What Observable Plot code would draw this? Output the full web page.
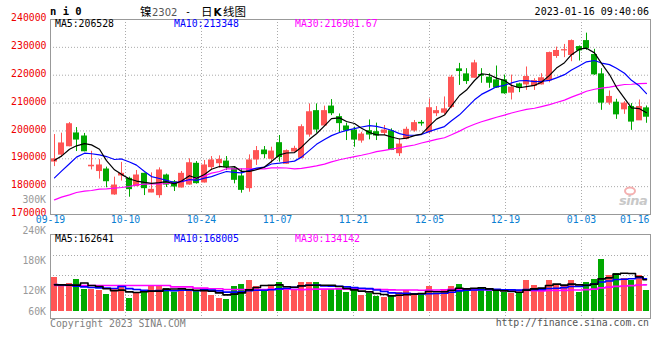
<!DOCTYPE html>
<html><head><meta charset="utf-8">
<script src="https://cdn.jsdelivr.net/npm/d3@7"></script>
<script src="https://cdn.jsdelivr.net/npm/@observablehq/plot@0.6"></script>
<style>
body{margin:0;background:#fff;}
#wrap{position:relative;width:660px;height:360px;overflow:hidden;background:#fff;}
#wrap svg{position:absolute;left:0;top:0;}
</style></head><body><div id="wrap"></div>
<script>
// ---------- data ----------
const xTickLabels = ["09-19","10-10","10-24","11-07","11-21","12-05","12-19","01-03","01-16"];
const priceTicks = [240000,230000,220000,210000,200000,190000,180000,170000];
const priceGrid = [230000,220000,210000,200000,190000,180000];
const volTickLabels = ["300K","240K","180K","120K","60K"];
const mainLegend = [["MA5:", "206528"], ["MA10:", "213348"], ["MA30:", "216901.67"]];
const volLegend = [["MA5:", "162641"], ["MA10:", "168005"], ["MA30:", "134142"]];

const open = [189000,191500,194500,199100,198000,187300,185600,186150,177200,184000,
182800,180200,184600,177900,176950,184000,181600,179700,180750,188200,
181500,187000,188400,189000,186400,183650,179450,189750,192970,190000,
195600,188200,192600,190350,198700,207100,201950,208750,204950,201600,
200150,196550,199900,199550,199300,199900,192000,197150,200150,202900,
199550,206350,206550,208600,222100,220300,219100,220100,219100,218150,
218150,213750,216700,216700,216150,216700,218150,226900,228900,227250,
230100,232250,227250,220300,210150,210150,207750,208600,203800,208100];
const high = [198700,199200,203000,201200,199100,192700,189700,187000,183400,188700,
183400,185800,184850,184950,186750,184500,182200,185450,190000,189000,
189400,190800,191050,190800,187200,186400,191400,194400,194400,194150,
198350,193200,194500,202200,209700,209700,208900,211250,206100,202800,
201350,199500,203950,202800,201950,200750,197150,201350,203750,203750,
211500,208750,212200,219950,224250,222350,225350,222350,220550,223300,
220050,220050,217100,222950,218750,220550,228300,230100,231050,232650,
230500,235100,229300,222350,214350,211350,210500,209800,211100,208950];
const low = [187200,190600,194300,192600,192500,186000,182700,179600,176900,182000,
176200,180000,176800,177800,175850,179700,178250,179500,180500,180900,
181300,186000,186650,185800,181000,177650,178000,187600,190000,188400,
188800,188000,192400,190000,197750,199200,201700,205500,199200,196550,
194150,195600,196800,196550,198350,192950,190800,196800,199550,201700,
198950,205150,205700,208000,216350,216700,219000,217100,215300,215300,
213150,211100,213750,214550,214550,216500,217300,226050,226300,224850,
225100,228900,219950,207400,209200,204150,205950,200200,203800,202750];
const close = [189800,195500,202400,196900,192700,187500,187600,181950,180400,184600,
179100,184000,179450,178850,185800,180750,180050,184600,188400,181250,
187600,189400,189600,187000,182450,178850,189400,192750,191650,192600,
190600,192750,193550,201350,206700,200500,207100,206350,202800,200150,
196900,198700,198700,198350,200150,193200,195100,200400,202800,202700,
208150,207100,207750,219100,221500,217900,224250,219850,217300,215550,
213500,215550,215550,219350,217900,218900,227950,228700,229000,232250,
228900,229650,220300,210150,212200,205950,209800,203350,208600,205100];
const volume = [175100,135600,144200,164800,113300,113300,108150,87550,113300,128750,
66950,94400,104700,128750,128750,118450,99550,108150,113300,108150,
108150,82400,66950,61800,128750,139050,159650,128750,113300,133900,
149350,113300,113300,149350,149350,149350,113300,113300,118450,97850,
113300,82400,92700,77250,72100,77250,97850,108150,92700,87550,
128750,92700,108150,128750,139050,113300,108150,118450,103000,103000,
97850,92700,97850,159650,133900,118450,159650,133900,133900,159650,
97850,149350,164800,267800,185400,195700,169950,159650,185400,108150];

// moving-average values before a full window exists
const ma5Prefix = [189500,190950,193450,194650];
const ma10Prefix = [183150,185550,188200,190600,192000,191800,191400,190800,189750];
const ma30Prefix = [175270,176230,177060,177900,178380,178620,179100,179220,179450,179700,
180050,180650,180900,181000,181000,181130,181370,181970,182200,183150,
183880,184840,185430,186400,186400,186400,186400,186400,186400];
const vma5Prefix = [137300,137300,136000,136000];
const vma10Prefix = [138850,137300,135600,130400,127000,123600,121900,120200,118450];
const vma30Prefix = [133900,133900,133900,133900,133900,133900,133900,133900,133900,133900,
133900,133900,133900,133900,133900,133900,127000,127000,127000,120200,
120200,117000,117000,113300,113300,113300,113300,113300,113300];

// ---------- layout ----------
const W = 660, X0 = 50, X1 = 650;
const STEP = (X1 - X0) / close.length;
const gridCols = [125, 201, 277, 353, 429, 505, 581];      // pixel columns of vertical grid
const volGridRows = [255, 275, 295];                         // pixel rows of volume grid
const VOL_BASE = 311, VOL_TOP = 234, VOL_BOTTOM = 318, VPX = 5150;
const volLabelCenters = [199.3, 230.5, 260.3, 290.7, 311.2];
const RED = "#ff5555", GREEN = "#00a800";
const MONO = "DejaVu Sans Mono, monospace";

const N = close.length;
const idx = d3.range(N);
const gridIdx = gridCols.map(c => (c - X0) / STEP - 0.5);
const mavg = (arr, w, prefix) => arr.map((_, i) => i < w - 1 ? prefix[i] : d3.mean(arr.slice(i - w + 1, i + 1)));
const ma5 = mavg(close, 5, ma5Prefix), ma10 = mavg(close, 10, ma10Prefix), ma30 = mavg(close, 30, ma30Prefix);
const vma5 = mavg(volume, 5, vma5Prefix), vma10 = mavg(volume, 10, vma10Prefix), vma30 = mavg(volume, 30, vma30Prefix);

const rows = idx.map(i => ({i, o: open[i], h: high[i], l: low[i], c: close[i], v: volume[i],
  col: close[i] >= open[i] ? RED : GREEN}));

const xLabelRows = xTickLabels.slice(0, -1).map((t, k) => ({t, x: k === 0 ? -0.5 : gridIdx[k - 1]}));

const dotted = {stroke: "#aaa", strokeDasharray: "1,2"};

const main = Plot.plot({
  width: W, height: 232,
  marginLeft: X0, marginRight: W - X1, marginTop: 19, marginBottom: 18,
  style: {fontFamily: MONO, fontSize: "9.8px", background: "transparent", overflow: "visible"},
  x: {type: "linear", domain: [-0.5, N - 0.5], round: true, axis: null},
  y: {domain: [170000, 240000], axis: null},
  color: {type: "identity"},
  marks: [
    Plot.ruleY(priceGrid, dotted),
    Plot.ruleX(gridIdx, dotted),
    Plot.text(priceTicks, {y: d => d, text: d => String(d), frameAnchor: "left", textAnchor: "end", dx: -4, dy: -1.5, fill: "#ee0000"}),
    Plot.text(xLabelRows, {x: "x", text: "t", frameAnchor: "bottom", dy: 8, fill: "#0a80d2"}),
    Plot.text([xTickLabels[xTickLabels.length - 1]], {x: N - 0.5, text: d => d, frameAnchor: "bottom", dy: 8, dx: -1, textAnchor: "end", fill: "#0a80d2"}),
    Plot.ruleX(rows, {x: "i", y1: "l", y2: "h", stroke: "col"}),
    Plot.rect(rows, {x1: d => d.i - 0.4, x2: d => d.i + 0.4, y1: "o", y2: "c", fill: "col", insetTop: -0.5, insetBottom: -0.5}),
    Plot.line(idx, {x: d => d, y: d => ma30[d], stroke: "#ff00ff", strokeWidth: 1.2}),
    Plot.line(idx, {x: d => d, y: d => ma10[d], stroke: "#0000ff", strokeWidth: 1.2}),
    Plot.line(idx, {x: d => d, y: d => ma5[d], stroke: "#000000", strokeWidth: 1.2}),
    Plot.frame({stroke: "#999"})
  ]
});

const vol = Plot.plot({
  width: W, height: 337,
  marginLeft: X0, marginRight: W - X1, marginTop: VOL_TOP, marginBottom: 337 - VOL_BOTTOM,
  style: {fontFamily: MONO, fontSize: "9.8px", background: "transparent", overflow: "visible"},
  x: {type: "linear", domain: [-0.5, N - 0.5], round: true, axis: null},
  y: {domain: [-(VOL_BOTTOM - VOL_BASE) * VPX, (VOL_BASE - VOL_TOP) * VPX], axis: null},
  color: {type: "identity"},
  marks: [
    Plot.ruleY(volGridRows.map(r => (VOL_BASE - r) * VPX), dotted),
    Plot.ruleX(gridIdx, dotted),
    Plot.rect(rows, {x1: d => d.i - 0.4, x2: d => d.i + 0.4, y1: 0, y2: "v", fill: "col"}),
    Plot.line(idx, {x: d => d, y: d => vma30[d], stroke: "#ff00ff", strokeWidth: 1.6, curve: "step"}),
    Plot.line(idx, {x: d => d, y: d => vma10[d], stroke: "#0000ff", strokeWidth: 1.6, curve: "step"}),
    Plot.line(idx, {x: d => d, y: d => vma5[d], stroke: "#000000", strokeWidth: 1.6, curve: "step"}),
    Plot.frame({stroke: "#999"})
  ]
});

const wrap = document.getElementById("wrap");
wrap.appendChild(main);
wrap.appendChild(vol);

// ---------- text overlay ----------
const ov = d3.select(wrap).append("svg").attr("width", W).attr("height", 360)
  .style("font-family", MONO).style("font-size", "9.8px");
function t(str, x, y, opt = {}) {
  const e = ov.append("text").attr("x", x).attr("y", y).text(str)
    .attr("fill", opt.fill || "#000").attr("text-anchor", opt.anchor || "start");
  if (opt.size) e.style("font-size", opt.size + "px");
  if (opt.weight) e.style("font-weight", opt.weight);
  if (opt.family) e.style("font-family", opt.family);
  if (opt.style) e.style("font-style", opt.style);
  if (opt.ls) e.style("letter-spacing", opt.ls);
  return e;
}
t("n i 0", 50, 15, {weight: "bold", size: 10.5});
const CJK = "'Noto Sans CJK SC', sans-serif";
t("镍", 140, 15.5, {family: CJK, size: 11.5});
t("2302", 152, 15.5, {family: "DejaVu Sans", size: 10, fill: "#555"});
t("-", 185, 14.5, {size: 10});
t("日", 201, 15.5, {family: CJK, size: 11.5});
t("K", 213.5, 15.5, {family: "DejaVu Sans", size: 10.5, weight: "bold"});
t("线图", 223, 15.5, {family: CJK, size: 11.5});
t("2023-01-16 09:40:06", 649, 15, {anchor: "end", size: 10});

const legendX = [55, 174, 295], legendCol = ["#000", "#0000ff", "#ff00ff"];
mainLegend.forEach((d, k) => t(d[0] + d[1], legendX[k], 27, {fill: legendCol[k]}));
volLegend.forEach((d, k) => t(d[0] + d[1], legendX[k], 241.5, {fill: legendCol[k]}));
volTickLabels.forEach((s, k) => t(s, 46, volLabelCenters[k] + 3.6, {anchor: "end", fill: "#999"}));
t("Copyright 2023 SINA.COM", 50, 327, {fill: "#808080"});
t("http://finance.sina.com.cn", 649, 326, {anchor: "end", fill: "#555"});
// watermark
ov.append("ellipse").attr("cx", 630).attr("cy", 191).attr("rx", 5).attr("ry", 3.5)
  .attr("fill", "none").attr("stroke", "#f4b0b0").attr("stroke-width", 2);
t("sina", 619, 205, {family: "DejaVu Sans", size: 13, weight: "bold", style: "italic", fill: "#c8c8c8", ls: "-0.5px"});
</script>
</body></html>
